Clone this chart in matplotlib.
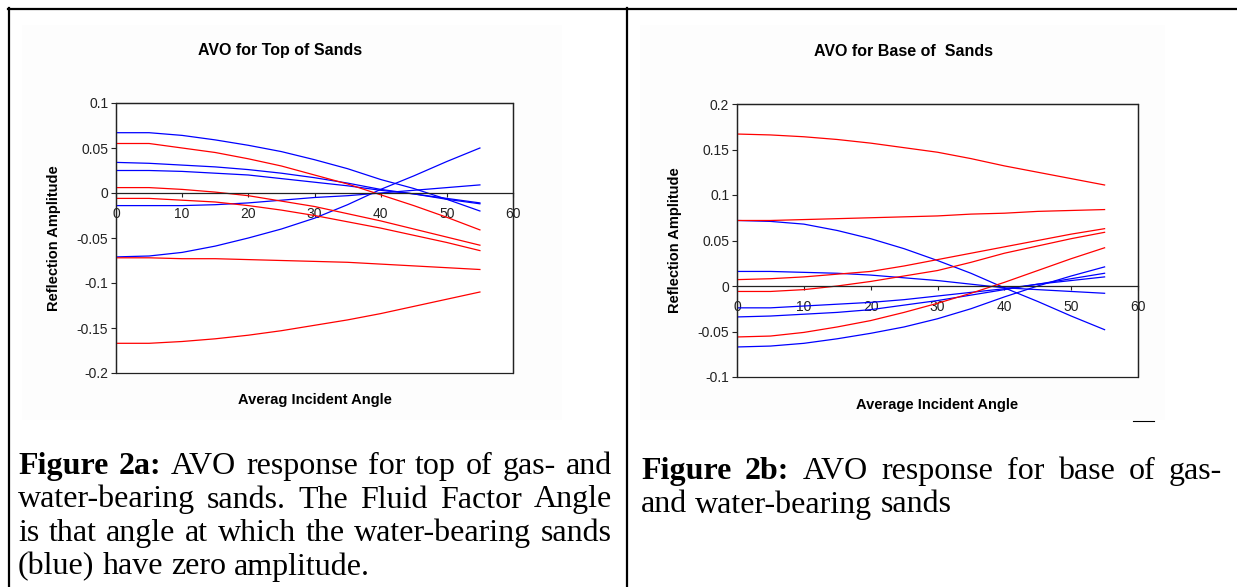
import numpy as np
import matplotlib
matplotlib.use("Agg")
import matplotlib.pyplot as plt
from matplotlib.lines import Line2D
from matplotlib.patches import Rectangle

W, H = 1237, 587

# incident angles (deg)
angles = [0, 5, 10, 15, 20, 25, 30, 35, 40, 45, 50, 55]

# top of sands: gas (red) and water (blue) bearing
top_gas = [
    [0.055, 0.055, 0.050, 0.045, 0.038, 0.030, 0.020, 0.010, -0.002, -0.014, -0.027, -0.041],
    [0.006, 0.006, 0.004, 0.001, -0.003, -0.009, -0.015, -0.023, -0.031, -0.040, -0.049, -0.058],
    [-0.006, -0.006, -0.008, -0.010, -0.014, -0.019, -0.025, -0.032, -0.039, -0.047, -0.055, -0.064],
    [-0.072, -0.072, -0.073, -0.073, -0.074, -0.075, -0.076, -0.077, -0.079, -0.081, -0.083, -0.085],
    [-0.167, -0.167, -0.165, -0.162, -0.158, -0.153, -0.147, -0.141, -0.134, -0.126, -0.118, -0.110],
]
top_water = [
    [0.067, 0.067, 0.064, 0.059, 0.053, 0.046, 0.037, 0.027, 0.015, 0.005, -0.007, -0.020],
    [0.034, 0.033, 0.031, 0.029, 0.026, 0.022, 0.017, 0.011, 0.004, -0.001, -0.007, -0.012],
    [0.025, 0.025, 0.024, 0.022, 0.020, 0.016, 0.012, 0.008, 0.003, -0.001, -0.006, -0.011],
    [-0.014, -0.014, -0.014, -0.013, -0.011, -0.008, -0.005, -0.003, 0.000, 0.003, 0.006, 0.009],
    [-0.071, -0.070, -0.066, -0.059, -0.050, -0.040, -0.028, -0.013, 0.004, 0.019, 0.035, 0.050],
]

# base of sands
base_gas = [
    [0.167, 0.166, 0.164, 0.161, 0.157, 0.152, 0.147, 0.140, 0.132, 0.125, 0.118, 0.111],
    [0.072, 0.072, 0.073, 0.074, 0.075, 0.076, 0.077, 0.079, 0.080, 0.082, 0.083, 0.084],
    [0.007, 0.008, 0.010, 0.013, 0.016, 0.022, 0.029, 0.036, 0.043, 0.050, 0.057, 0.063],
    [-0.006, -0.006, -0.004, 0.000, 0.005, 0.011, 0.017, 0.026, 0.036, 0.044, 0.052, 0.059],
    [-0.056, -0.055, -0.051, -0.045, -0.038, -0.029, -0.019, -0.008, 0.004, 0.017, 0.030, 0.042],
]
base_water = [
    [0.072, 0.071, 0.068, 0.061, 0.052, 0.041, 0.028, 0.014, -0.002, -0.017, -0.033, -0.048],
    [0.016, 0.016, 0.015, 0.014, 0.012, 0.009, 0.006, 0.002, -0.002, -0.004, -0.006, -0.008],
    [-0.024, -0.024, -0.022, -0.020, -0.018, -0.015, -0.011, -0.007, -0.003, 0.002, 0.006, 0.010],
    [-0.034, -0.033, -0.031, -0.029, -0.026, -0.021, -0.016, -0.010, -0.004, 0.002, 0.008, 0.014],
    [-0.067, -0.066, -0.063, -0.058, -0.052, -0.045, -0.036, -0.025, -0.012, 0.000, 0.011, 0.021],
]

top_yticks = [-0.2, -0.15, -0.1, -0.05, 0, 0.05, 0.1]
base_yticks = [-0.1, -0.05, 0, 0.05, 0.1, 0.15, 0.2]
xticks = [0, 10, 20, 30, 40, 50, 60]

caption_a = [
    [("Figure", True), ("2a:", True), ("AVO", False), ("response", False), ("for", False),
     ("top", False), ("of", False), ("gas-", False), ("and", False)],
    [("water-bearing", False), ("sands.", False), ("The", False), ("Fluid", False),
     ("Factor", False), ("Angle", False)],
    [("is", False), ("that", False), ("angle", False), ("at", False), ("which", False),
     ("the", False), ("water-bearing", False), ("sands", False)],
    [("(blue)", False), ("have", False), ("zero", False), ("amplitude.", False)],
]
caption_b = [
    [("Figure", True), ("2b:", True), ("AVO", False), ("response", False), ("for", False),
     ("base", False), ("of", False), ("gas-", False)],
    [("and", False), ("water-bearing", False), ("sands", False)],
]


def fx(px):
    return px / W


def fy(py):
    return 1 - py / H


fig = plt.figure(figsize=(W / 100, H / 100), dpi=100)
fig.patch.set_facecolor("white")

# faint chart-area backgrounds
for (x0, x1) in [(22, 562), (640, 1165)]:
    fig.add_artist(Rectangle((fx(x0), fy(420)), fx(x1) - fx(x0), fy(25) - fy(420),
                             transform=fig.transFigure, facecolor="#fdfdfd",
                             edgecolor="none", zorder=0))

# table borders
for xs, ys in [([8, W], [9, 9]), ([9, 9], [8, H]), ([627, 627], [8, H])]:
    fig.add_artist(Line2D([fx(v) for v in xs], [fy(v) for v in ys],
                          transform=fig.transFigure, color="black", lw=1.6))


def make_chart(rect, gas, water, yticks, ylim, title, title_xy, xlabel):
    l, t, r, b = rect
    ax = fig.add_axes([fx(l), fy(b), fx(r) - fx(l), fy(t) - fy(b)])
    ax.set_facecolor("white")
    for s in water:
        ax.plot(angles, s, color="#0000ff", lw=0.9)
    for s in gas:
        ax.plot(angles, s, color="#ff0000", lw=0.9)
    ax.set_xlim(0, 60)
    ax.set_ylim(*ylim)
    ax.set_yticks(yticks)
    ax.set_yticklabels(["0" if v == 0 else ("%g" % v) for v in yticks])
    ax.set_xticks(xticks)
    ax.spines["bottom"].set_position(("data", 0))
    for sp in ax.spines.values():
        sp.set_linewidth(0.9)
        sp.set_color("#222222")
    ax.add_patch(Rectangle((0, 0), 1, 1, transform=ax.transAxes, fill=False,
                           edgecolor="#222222", lw=0.9, clip_on=False))
    ax.tick_params(axis="y", direction="out", length=3.5, width=0.8, pad=2,
                   labelsize=10, colors="#222222")
    ax.tick_params(axis="x", direction="out", length=3, width=0.8, pad=7,
                   labelsize=10, colors="#222222")
    for lab in ax.get_xticklabels() + ax.get_yticklabels():
        lab.set_fontfamily("Liberation Sans")
    fig.text(fx(title_xy[0]), fy(title_xy[1]), title, ha="center", va="center",
             fontsize=11.5, fontweight="bold", family="Liberation Sans")
    fig.text(fx((l + r) / 2), fy(xlabel[1]), xlabel[0], ha="center", va="center",
             fontsize=10.5, fontweight="bold", family="Liberation Sans")
    fig.text(fx(l - 62), fy((t + b) / 2), "Reflection Amplitude", rotation=90,
             ha="center", va="center", fontsize=10.5, fontweight="bold",
             family="Liberation Sans")
    return ax


make_chart((116, 103, 513, 373), top_gas, top_water, top_yticks, (-0.2, 0.1),
           "AVO for Top of Sands", (280, 51), ("Averag Incident Angle", 400))
make_chart((737, 104, 1138, 377), base_gas, base_water, base_yticks, (-0.1, 0.2),
           "AVO for Base of  Sands", (903, 51), ("Average Incident Angle", 405))

# stray mark under right chart
fig.add_artist(Line2D([fx(1133), fx(1154)], [fy(421), fy(421)],
                      transform=fig.transFigure, color="black", lw=0.8))

renderer = fig.canvas.get_renderer()
CAP_SIZE = 23


def caption(lines, x0, x1, y0, step):
    for i, words in enumerate(lines):
        texts = []
        for w, bold in words:
            t = fig.text(0, fy(y0 + i * step), w, fontsize=CAP_SIZE, va="baseline",
                         ha="left", family="Liberation Serif",
                         fontweight="bold" if bold else "normal")
            texts.append(t)
        widths = [t.get_window_extent(renderer).width for t in texts]
        # justified except for the last line of a paragraph
        if i < len(lines) - 1 and len(texts) > 1:
            gap = (x1 - x0 - sum(widths)) / (len(texts) - 1)
        else:
            gap = 0.25 * CAP_SIZE * 100 / 72
        x = x0
        for t, w in zip(texts, widths):
            t.set_x(fx(x))
            x += w + gap


caption(caption_a, 18, 612, 474, 33.5)
caption(caption_b, 641, 1222, 479, 33.5)

plt.savefig("out.png", dpi=100)
